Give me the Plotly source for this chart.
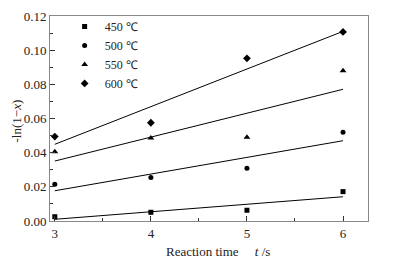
import plotly.graph_objects as go

times = [3, 4, 5, 6]
labels = ["450 ℃", "500 ℃", "550 ℃", "600 ℃"]
symbols = ["square", "circle", "triangle-up", "diamond"]
y450 = [0.0025, 0.0051, 0.0063, 0.0172]
y500 = [0.0215, 0.0254, 0.0309, 0.0520]
y550 = [0.0406, 0.0486, 0.0490, 0.0880]
y600 = [0.0494, 0.0575, 0.0952, 0.1107]
series = [y450, y500, y550, y600]

fit_x = [3, 6]
fit450 = [0.0010, 0.0142]
fit500 = [0.0177, 0.0470]
fit550 = [0.0351, 0.0771]
fit600 = [0.0449, 0.1110]
fits = [fit450, fit500, fit550, fit600]

FONT = "Liberation Serif"
msize = {"square": 5, "circle": 5, "triangle-up": 6, "diamond": 6}

fig = go.Figure()
for f in fits:
    fig.add_trace(go.Scatter(x=fit_x, y=f, mode="lines", line=dict(color="black", width=1),
                             showlegend=False, hoverinfo="skip"))
for lab, sym, ys in zip(labels, symbols, series):
    fig.add_trace(go.Scatter(x=times, y=ys, mode="markers", name=lab,
                             marker=dict(symbol=sym, size=msize[sym], color="black")))

# page body has an 8px margin, so the figure is sized/offset to compensate
fig.update_layout(
    width=386, height=254,
    margin=dict(l=42, r=26, t=8, b=41, autoexpand=False),
    paper_bgcolor="white", plot_bgcolor="white",
    font=dict(family=FONT, size=13, color="#222"),
    legend=dict(x=0.046, y=1.02, xanchor="left", yanchor="top", bgcolor="rgba(0,0,0,0)",
                font=dict(family=FONT, size=12), itemwidth=30, tracegroupgap=0),
    showlegend=True,
)
fig.add_annotation(text="Reaction time&nbsp;&nbsp;&nbsp;&nbsp;&nbsp;<i>t</i> /s", xref="paper", yref="paper",
                   x=0.528, y=-0.151, xanchor="center", yanchor="middle", showarrow=False,
                   font=dict(family=FONT, size=13, color="#222"))
fig.add_annotation(text="-ln(1−<i>x</i>)", xref="paper", yref="paper", textangle=-90,
                   x=-0.104, y=0.49, xanchor="center", yanchor="middle", showarrow=False,
                   font=dict(family=FONT, size=13, color="#222"))
fig.update_xaxes(range=[2.95, 6.26], tickvals=times, ticks="inside", ticklen=5,
                 tickcolor="#333", showline=True, linecolor="#888", linewidth=1, mirror=True,
                 showgrid=False, zeroline=False, tickfont=dict(family=FONT, size=13),
                 minor=dict(ticks="inside", dtick=0.5, tick0=3, ticklen=3, tickcolor="#333"))
fig.update_yaxes(range=[0, 0.12], dtick=0.02, tickformat=".2f", ticks="inside", ticklen=5,
                 tickcolor="#333", showline=True, linecolor="#888", linewidth=1, mirror=True,
                 showgrid=False, zeroline=False, tickfont=dict(family=FONT, size=13),
                 minor=dict(ticks="inside", dtick=0.01, ticklen=3, tickcolor="#333"))

fig.write_html("out.html")
